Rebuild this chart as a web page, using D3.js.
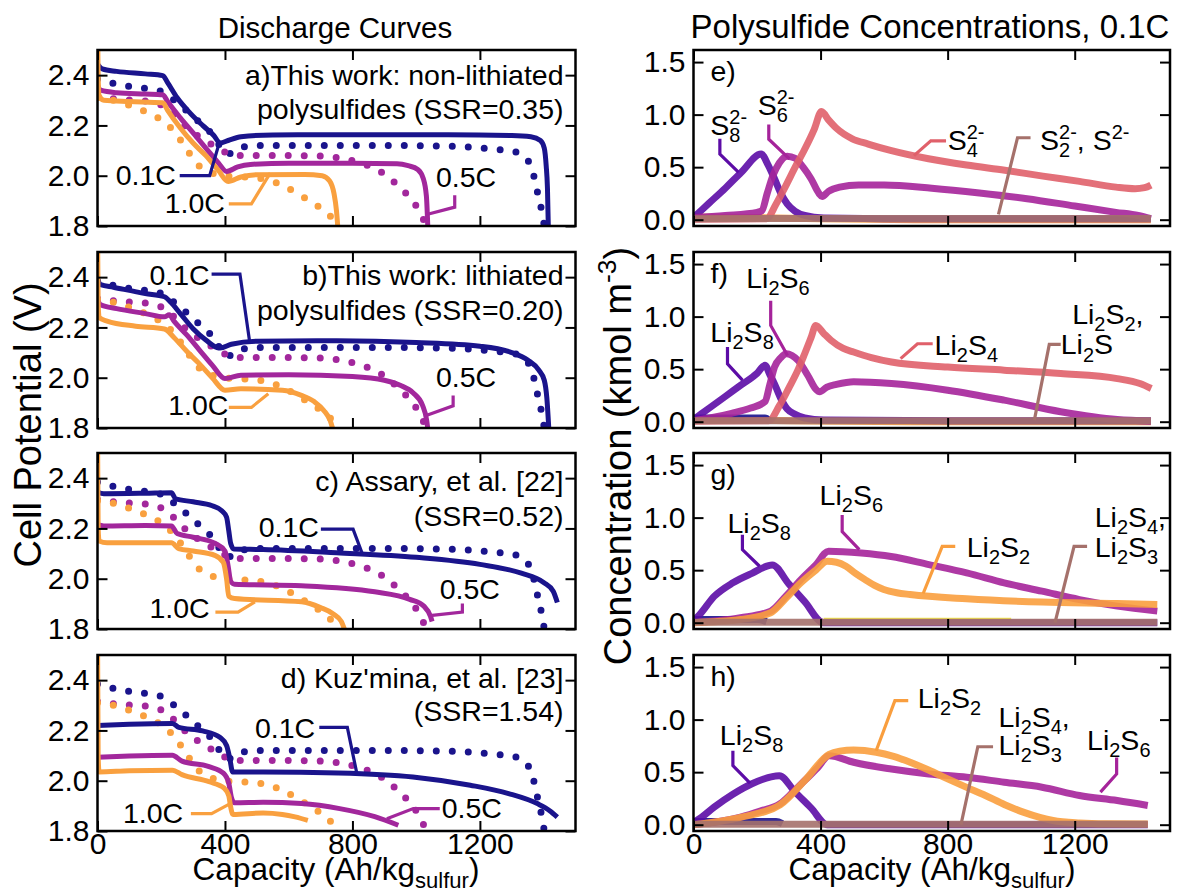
<!DOCTYPE html>
<html>
<head>
<meta charset="utf-8">
<script src="https://d3js.org/d3.v7.min.js"></script>
<style>
  body { margin: 0; background: #fff; }
  svg text { font-family: "Liberation Sans", Arial, sans-serif; fill: #000; }
</style>
</head>
<body>
<div id="chart"></div>
<script>

// ---- discharge data, [capacity Ah/kg, potential V] ----
// experiment (dotted), the same in all four left panels
var exp01 = [[0,2.385],[40,2.37],[100,2.355],[160,2.345],[200,2.335],[230,2.31],[260,2.28],[300,2.235],[340,2.19],[370,2.15],[392,2.1],[410,2.086],[440,2.108],[500,2.12],[700,2.12],[900,2.12],[1100,2.118],[1230,2.107],[1310,2.095],[1345,2.07],[1362,2.03],[1373,1.98],[1383,1.92],[1394,1.86],[1402,1.8]];
var exp05 = [[0,2.315],[60,2.305],[160,2.295],[210,2.275],[250,2.23],[290,2.18],[340,2.14],[390,2.1],[420,2.085],[460,2.08],[600,2.08],[700,2.078],[780,2.065],[840,2.045],[890,2.015],[935,1.97],[975,1.92],[1005,1.87],[1025,1.82],[1032,1.8]];
var exp10 = [[0,2.31],[50,2.3],[110,2.275],[150,2.255],[190,2.23],[230,2.19],[270,2.125],[310,2.05],[350,2.015],[400,2.0],[460,1.995],[530,1.985],[590,1.955],[640,1.92],[690,1.88],[730,1.84],[755,1.8]];

// simulations (solid)
var simA01 = [[0,2.445],[15,2.425],[60,2.415],[150,2.405],[205,2.398],[220,2.37],[250,2.31],[290,2.25],[330,2.2],[365,2.16],[385,2.13],[410,2.14],[450,2.155],[550,2.162],[800,2.163],[1100,2.163],[1300,2.16],[1360,2.155],[1390,2.14],[1402,2.11],[1408,2.04],[1412,1.95],[1415,1.78]];
var simA05 = [[0,2.36],[10,2.34],[60,2.33],[150,2.325],[205,2.322],[220,2.295],[260,2.23],[300,2.17],[340,2.11],[380,2.05],[405,2.017],[440,2.035],[480,2.045],[600,2.05],[800,2.05],[940,2.048],[975,2.04],[1005,2.025],[1022,1.99],[1032,1.92],[1037,1.78]];
var simA10 = [[0,2.62],[2,2.4],[5,2.32],[20,2.3],[100,2.295],[205,2.29],[220,2.26],[260,2.19],[300,2.13],[340,2.08],[380,2.02],[410,1.977],[450,1.995],[500,2.004],[650,2.005],[705,2.0],[728,1.98],[742,1.93],[750,1.86],[755,1.78]];

var simB01 = [[0,2.39],[10,2.37],[50,2.36],[150,2.335],[210,2.322],[230,2.3],[260,2.255],[300,2.195],[340,2.15],[375,2.12],[385,2.118],[420,2.133],[500,2.145],[750,2.147],[1000,2.14],[1200,2.125],[1300,2.1],[1350,2.07],[1385,2.03],[1402,1.99],[1410,1.92],[1417,1.78]];
var simB05 = [[0,2.31],[10,2.29],[60,2.275],[150,2.255],[210,2.242],[225,2.25],[240,2.225],[280,2.17],[320,2.11],[360,2.05],[400,1.997],[450,2.01],[600,2.012],[800,2.005],[900,1.99],[950,1.97],[990,1.94],[1020,1.89],[1033,1.83],[1038,1.78]];
var simB10 = [[0,2.6],[2,2.3],[5,2.24],[30,2.225],[120,2.205],[210,2.194],[240,2.16],[280,2.105],[320,2.055],[360,2.0],[400,1.95],[450,1.956],[580,1.95],[640,1.93],[680,1.905],[710,1.87],[730,1.83],[742,1.78]];

var simC01 = [[0,2.345],[20,2.338],[150,2.34],[232,2.342],[245,2.318],[300,2.306],[360,2.29],[390,2.27],[405,2.245],[412,2.19],[418,2.14],[428,2.118],[520,2.116],[750,2.103],[1000,2.085],[1200,2.057],[1330,2.022],[1400,1.985],[1430,1.95],[1443,1.905]];
var simC05 = [[0,2.215],[20,2.21],[150,2.212],[232,2.21],[250,2.18],[300,2.165],[370,2.14],[400,2.11],[410,2.05],[418,1.99],[430,1.978],[640,1.972],[870,1.948],[980,1.918],[1025,1.89],[1045,1.85],[1050,1.83]];
var simC10 = [[0,2.6],[2,2.2],[5,2.15],[30,2.143],[150,2.143],[232,2.143],[255,2.12],[300,2.11],[370,2.092],[395,2.065],[405,2.0],[412,1.93],[430,1.921],[640,1.908],[700,1.885],[740,1.86],[765,1.83],[780,1.78]];

var simD01 = [[0,2.22],[100,2.225],[235,2.228],[255,2.212],[330,2.198],[385,2.172],[405,2.14],[415,2.09],[424,2.035],[520,2.035],[755,2.031],[990,2.015],[1170,1.982],[1290,1.949],[1380,1.909],[1420,1.88],[1443,1.855]];
var simD05 = [[0,2.093],[100,2.098],[235,2.101],[265,2.078],[350,2.056],[395,2.03],[412,1.99],[420,1.935],[430,1.912],[520,1.914],[640,1.909],[760,1.889],[870,1.857],[944,1.823]];
var simD10 = [[0,2.6],[2,2.1],[5,2.035],[100,2.04],[235,2.042],[265,2.024],[350,1.996],[398,1.97],[412,1.94],[418,1.895],[425,1.866],[520,1.872],[580,1.866],[620,1.856],[660,1.842]];

var rateNames = ["0.1C", "0.5C", "1.0C"];
var voltTicks = [1.8, 2.0, 2.2, 2.4];
var capTicks = [0, 400, 800, 1200];
var concTicks = [0.0, 0.5, 1.0, 1.5];

// ---- concentration data, [capacity Ah/kg, kmol/m3] ----
var concE_S8 = [[0,0.02],[50,0.16],[100,0.3],[150,0.45],[213,0.625],[235,0.52],[255,0.39],[275,0.25],[295,0.15],[320,0.08],[350,0.04],[410,0.015],[600,0.01],[1000,0.01],[1440,0.01]];
var concE_S6 = [[0,0.02],[100,0.04],[200,0.07],[215,0.085],[232,0.25],[250,0.42],[270,0.54],[295,0.605],[320,0.585],[345,0.5],[370,0.39],[395,0.25],[405,0.22],[425,0.27],[460,0.31],[520,0.33],[600,0.33],[750,0.3],[900,0.255],[1050,0.2],[1200,0.13],[1330,0.07],[1400,0.04],[1440,0.01]];
var concE_S4 = [[0,0.005],[230,0.01],[260,0.15],[290,0.32],[320,0.5],[350,0.67],[380,0.86],[403,1.03],[425,0.95],[450,0.87],[500,0.77],[550,0.72],[620,0.66],[740,0.58],[860,0.52],[980,0.47],[1100,0.415],[1215,0.365],[1330,0.31],[1390,0.295],[1420,0.305],[1440,0.33]];
var concE_S2 = [[0,0.01],[400,0.012],[1440,0.012]];
var concE_low = [[0,0.025],[200,0.02],[400,0.008],[700,0.0],[1440,0.0]];

var concF_S8 = [[0,0.02],[50,0.13],[100,0.24],[150,0.35],[200,0.46],[225,0.537],[240,0.45],[255,0.36],[275,0.22],[295,0.12],[320,0.07],[350,0.035],[410,0.015],[800,0.01],[1440,0.01]];
var concF_S6 = [[0,0.01],[60,0.04],[120,0.08],[180,0.13],[225,0.19],[240,0.35],[255,0.52],[275,0.61],[292,0.647],[310,0.63],[330,0.58],[360,0.44],[385,0.31],[397,0.284],[420,0.33],[450,0.355],[504,0.38],[623,0.363],[800,0.3],[978,0.205],[1156,0.095],[1334,0.02],[1440,0.005]];
var concF_S4 = [[0,0.005],[237,0.01],[270,0.15],[300,0.32],[330,0.5],[350,0.647],[370,0.8],[385,0.916],[410,0.84],[433,0.774],[470,0.7],[504,0.663],[560,0.61],[623,0.568],[800,0.52],[978,0.49],[1156,0.458],[1334,0.41],[1405,0.363],[1441,0.316]];
var concF_S2 = [[0,0.01],[1440,0.01]];
var concF_solid = [[0,0.035],[225,0.035],[240,0.01]];
var concF_low = [[0,0.02],[300,0.01],[700,0.0],[1440,0.0]];

var concG_S8 = [[0,0.02],[20,0.08],[65,0.25],[124,0.38],[184,0.47],[248,0.55],[300,0.37],[350,0.2],[409,0.0],[1460,0.0]];
var concG_S6 = [[0,0.0],[80,0.02],[148,0.047],[243,0.11],[290,0.25],[338,0.41],[385,0.55],[425,0.68],[528,0.663],[622,0.63],[741,0.553],[860,0.474],[978,0.379],[1097,0.3],[1215,0.22],[1334,0.158],[1460,0.11]];
var concG_S2 = [[0,0.0],[148,0.03],[243,0.095],[290,0.23],[338,0.38],[385,0.5],[421,0.584],[450,0.575],[480,0.537],[510,0.47],[540,0.41],[570,0.355],[599,0.316],[640,0.285],[682,0.268],[860,0.227],[1097,0.196],[1334,0.183],[1460,0.174]];
var concG_S43 = [[0,0.005],[1460,0.005]];
var concG_solid = [[0,0.03],[200,0.03],[230,0.01]];
var concG_trace = [[410,0.014],[1000,0.014]];

var concH_S8 = [[0,0.02],[25,0.07],[65,0.167],[124,0.29],[184,0.39],[270,0.467],[320,0.31],[370,0.16],[421,0.0],[1430,0.0]];
var concH_S6 = [[0,0.0],[80,0.03],[148,0.073],[210,0.13],[273,0.2],[310,0.3],[350,0.42],[390,0.54],[427,0.657],[504,0.594],[623,0.53],[741,0.483],[860,0.452],[978,0.404],[1097,0.357],[1215,0.278],[1334,0.23],[1430,0.183]];
var concH_S2 = [[0,0.0],[148,0.07],[273,0.19],[350,0.42],[427,0.67],[460,0.7],[504,0.71],[575,0.69],[630,0.65],[682,0.594],[740,0.52],[800,0.436],[860,0.355],[919,0.278],[980,0.19],[1038,0.12],[1090,0.07],[1132,0.04],[1215,0.016],[1300,0.008],[1430,0.006]];
var concH_S43 = [[0,0.005],[1430,0.005]];
var concH_solid = [[0,0.03],[260,0.03],[280,0.01]];

// ---- layout ----
var W = 1177, H = 896;
var leftX0 = 97.5, leftX1 = 575.5, rightX0 = 693.5, rightX1 = 1170;
var rowTops = [50, 252, 453, 655], rowH = 176;
var rateColors = ["#1a148c", "#a2279c", "#f9a03f"];
var col = { S8: "#5c0ca6", S6: "#a5239a", S4: "#e0606a", S2: "#f99e3e", brown: "#a5716b", navy: "#1a128e", yellow: "#efe33c" };
var annSize = 28.5, tickSize = 30;

var svg = d3.select("#chart").append("svg").attr("width", W).attr("height", H);

// small parser for _{sub} and ^{sup}
function richText(sel, x, y, str, size, anchor) {
  var t = sel.append("text").attr("x", x).attr("y", y)
    .attr("font-size", size).attr("text-anchor", anchor || "start");
  var re = /(_\{[^}]*\}|\^\{[^}]*\}|[^_^]+)/g, m, cur = 0, prev = null, prevKind = "n";
  while ((m = re.exec(str)) !== null) {
    var tok = m[0], kind = "n", txt = tok;
    if (tok[0] === "_") { kind = "sub"; txt = tok.slice(2, -1); }
    else if (tok[0] === "^") { kind = "sup"; txt = tok.slice(2, -1); }
    var off = kind === "sub" ? 0.26 * size : (kind === "sup" ? -0.4 * size : 0);
    var ts = t.append("tspan").text(txt).attr("dy", off - cur);
    if (kind !== "n") ts.attr("font-size", size * 0.7);
    if (kind === "sup" && prevKind === "sub") ts.attr("dx", -prev.node().getComputedTextLength());
    cur = off; prev = ts; prevKind = kind;
  }
  return t;
}

function addAxes(g, x, y, w, yTicks, yFmt, showX) {
  var axes = [];
  axes.push(g.append("g").call(d3.axisLeft(y).tickValues(yTicks).tickSize(-10).tickPadding(8).tickFormat(d3.format(yFmt))));
  axes.push(g.append("g").attr("transform", "translate(" + w + ",0)").call(d3.axisRight(y).tickValues(yTicks).tickSize(-10).tickFormat("")));
  axes.push(g.append("g").call(d3.axisTop(x).tickValues(capTicks).tickSize(-10).tickFormat("")));
  axes.push(g.append("g").attr("transform", "translate(0," + rowH + ")")
    .call(d3.axisBottom(x).tickValues(capTicks).tickSize(-10).tickPadding(2).tickFormat(showX ? d3.format("d") : "")));
  axes.forEach(function (a) {
    a.attr("font-family", null).attr("font-size", null);
    a.select(".domain").remove();
    a.selectAll(".tick line").attr("stroke", "#000").attr("stroke-width", 2);
    a.selectAll(".tick text").attr("font-size", tickSize).attr("fill", "#000");
  });
}

function addFrame(g, w) {
  g.append("rect").attr("width", w).attr("height", rowH)
    .attr("fill", "none").attr("stroke", "#000").attr("stroke-width", 2.5);
}

function addClip(g, id, w) {
  g.append("clipPath").attr("id", id).append("rect").attr("width", w).attr("height", rowH);
}

// ---- discharge panels ----
var dischargePanels = [
  { id: "a", sims: [simA01, simA05, simA10], title: ["a)This work: non-lithiated", "polysulfides (SSR=0.35)"], titleY: [35, 69],
    labels: [[57, 1.963], [1062, 1.955], [211, 1.852]],
    leaders: [[[258, 2.0], [352, 2.0], [382, 2.13]], [[1121, 1.922], [1121, 1.875], [1039, 1.848]], [[412, 1.888], [483, 1.888], [542, 2.01]]] },
  { id: "b", sims: [simB01, simB05, simB10], title: ["b)This work: lithiated", "polysulfides (SSR=0.20)"], titleY: [33, 68],
    labels: [[163, 2.369], [1062, 1.963], [222, 1.852]],
    leaders: [[[358, 2.412], [447, 2.412], [477, 2.147]], [[1116, 1.929], [1116, 1.888], [1027, 1.848]], [[412, 1.882], [483, 1.882], [536, 1.936]]] },
  { id: "c", sims: [simC01, simC05, simC10], title: ["c) Assary, et al. [22]", "(SSR=0.52)"], titleY: [38, 73],
    labels: [[506, 2.166], [1074, 1.919], [163, 1.844]],
    leaders: [[[701, 2.197], [802, 2.197], [832, 2.096]], [[1145, 1.901], [1145, 1.867], [1050, 1.854]], [[370, 1.867], [441, 1.867], [494, 1.908]]] },
  { id: "d", sims: [simD01, simD05, simD10], title: ["d) Kuz'mina, et al. [23]", "(SSR=1.54)"], titleY: [33, 66],
    labels: [[494, 2.17], [1080, 1.852], [80, 1.832]],
    leaders: [[[696, 2.212], [784, 2.212], [814, 2.028]], [[1074, 1.889], [991, 1.889], [908, 1.849]], [[293, 1.869], [358, 1.869], [412, 1.906]]] }
];
var expCurves = [exp01, exp05, exp10];

dischargePanels.forEach(function (p, row) {
  var w = leftX1 - leftX0;
  var g = svg.append("g").attr("transform", "translate(" + leftX0 + "," + rowTops[row] + ")");
  var x = d3.scaleLinear().domain([0, 1500]).range([0, w]);
  var y = d3.scaleLinear().domain([1.8, 2.5]).range([rowH, 0]);
  var line = d3.line().x(function (d) { return x(d[0]); }).y(function (d) { return y(d[1]); }).curve(d3.curveMonotoneX);
  var straight = d3.line().x(function (d) { return x(d[0]); }).y(function (d) { return y(d[1]); });

  addClip(g, "clip-" + p.id, w);
  var plot = g.append("g").attr("clip-path", "url(#clip-" + p.id + ")");

  expCurves.forEach(function (c, i) {
    plot.append("path").attr("d", line(c)).attr("fill", "none")
      .attr("stroke", rateColors[i]).attr("stroke-width", 7)
      .attr("stroke-linecap", "round").attr("stroke-dasharray", "0,16");
  });
  p.sims.forEach(function (c, i) {
    plot.append("path").attr("d", line(c)).attr("fill", "none")
      .attr("stroke", rateColors[i]).attr("stroke-width", 5);
  });

  p.leaders.forEach(function (l, i) {
    g.append("path").attr("d", straight(l)).attr("fill", "none")
      .attr("stroke", rateColors[i]).attr("stroke-width", 3.2);
  });
  p.labels.forEach(function (l, i) {
    richText(g, x(l[0]), y(l[1]), rateNames[i], annSize, "start");
  });
  richText(g, w - 12, p.titleY[0], p.title[0], annSize, "end");
  richText(g, w - 12, p.titleY[1], p.title[1], annSize, "end");

  addAxes(g, x, y, w, voltTicks, ".1f", row === 3);
  addFrame(g, w);
});

// ---- concentration panels ----
var concPanels = [
  { id: "e",
    series: [[concE_low, col.S2], [concE_S8, col.S8], [concE_S6, col.S6], [concE_S4, col.S4], [concE_S2, col.brown]],
    labels: [[53, 0.806, "S_{8}^{2-}"], [202, 0.997, "S_{6}^{2-}"], [800, 0.664, "S_{4}^{2-}"], [1091, 0.664, "S_{2}^{2-}, S^{2-}"]],
    leaders: [[[[83, 0.77], [83, 0.625], [142, 0.45]], col.S8], [[[237, 0.906], [237, 0.766], [302, 0.578]], col.S6],
              [[[795, 0.75], [747, 0.75], [694, 0.61]], col.S4], [[[1061, 0.78], [1020, 0.78], [960, 0.05]], col.brown]] },
  { id: "f",
    series: [[concF_low, col.S2], [concF_solid, col.navy], [concF_S8, col.S8], [concF_S6, col.S6], [concF_S4, col.S4], [concF_S2, col.brown]],
    labels: [[166, 1.272, "Li_{2}S_{6}"], [53, 0.759, "Li_{2}S_{8}"], [759, 0.635, "Li_{2}S_{4}"], [1192, 0.93, "Li_{2}S_{2},"], [1156, 0.64, "Li_{2}S"]],
    leaders: [[[[243, 1.15], [243, 0.916], [296, 0.63]], col.S6], [[[107, 0.71], [107, 0.55], [154, 0.395]], col.S8],
              [[[753, 0.742], [705, 0.742], [652, 0.6]], col.S4], [[[1156, 0.736], [1120, 0.736], [1073, 0.015]], col.brown]] },
  { id: "g",
    series: [[concG_solid, col.navy], [concG_trace, col.yellow], [concG_S8, col.S8], [concG_S6, col.S6], [concG_S2, col.S2], [concG_S43, col.brown]],
    labels: [[397, 1.12, "Li_{2}S_{6}"], [107, 0.854, "Li_{2}S_{8}"], [860, 0.625, "Li_{2}S_{2}"], [1263, 0.91, "Li_{2}S_{4},"], [1263, 0.625, "Li_{2}S_{3}"]],
    leaders: [[[[468, 1.026], [468, 0.868], [522, 0.695]], col.S6], [[[154, 0.837], [154, 0.695], [208, 0.537]], col.S8],
              [[[824, 0.726], [783, 0.726], [723, 0.278]], col.S2], [[[1239, 0.726], [1198, 0.726], [1138, 0.0]], col.brown]] },
  { id: "h",
    series: [[concH_solid, col.navy], [concH_S8, col.S8], [concH_S6, col.S6], [concH_S2, col.S2], [concH_S43, col.brown]],
    labels: [[83, 0.759, "Li_{2}S_{8}"], [706, 1.111, "Li_{2}S_{2}"], [960, 0.93, "Li_{2}S_{4},"], [960, 0.664, "Li_{2}S_{3}"], [1239, 0.711, "Li_{2}S_{6}"]],
    leaders: [[[[124, 0.704], [124, 0.562], [178, 0.395]], col.S8], [[[676, 1.18], [634, 1.18], [575, 0.704]], col.S2],
              [[[943, 0.742], [895, 0.742], [842, 0.0]], col.brown], [[[1332, 0.64], [1332, 0.483], [1281, 0.31]], col.S6]] }
];

concPanels.forEach(function (p, row) {
  var w = rightX1 - rightX0;
  var g = svg.append("g").attr("transform", "translate(" + rightX0 + "," + rowTops[row] + ")");
  var x = d3.scaleLinear().domain([0, 1500]).range([0, w]);
  var y = d3.scaleLinear().domain([-0.06, 1.615]).range([rowH, 0]);
  var line = d3.line().x(function (d) { return x(d[0]); }).y(function (d) { return y(d[1]); }).curve(d3.curveMonotoneX);
  var straight = d3.line().x(function (d) { return x(d[0]); }).y(function (d) { return y(d[1]); });

  addClip(g, "clip-" + p.id, w);
  var plot = g.append("g").attr("clip-path", "url(#clip-" + p.id + ")");
  p.series.forEach(function (s) {
    plot.append("path").attr("d", line(s[0])).attr("fill", "none")
      .attr("stroke", s[1]).attr("stroke-width", 7).attr("stroke-opacity", 0.9);
  });
  p.leaders.forEach(function (l) {
    g.append("path").attr("d", straight(l[0])).attr("fill", "none")
      .attr("stroke", l[1]).attr("stroke-width", 3.2);
  });
  p.labels.forEach(function (l) {
    richText(g, x(l[0]), y(l[1]), l[2], annSize, "start");
  });
  richText(g, 17, 31, p.id + ")", annSize, "start");

  addAxes(g, x, y, w, concTicks, ".1f", row === 3);
  addFrame(g, w);
});

// ---- titles and axis labels ----
richText(svg, 335, 38, "Discharge Curves", 29.5, "middle");
richText(svg, 930, 38, "Polysulfide Concentrations, 0.1C", 33, "middle");
richText(svg, 336, 880, "Capacity (Ah/kg_{sulfur})", 31.5, "middle");
richText(svg, 932, 880, "Capacity (Ah/kg_{sulfur})", 31.5, "middle");
richText(svg.append("g").attr("transform", "translate(41,425) rotate(-90)"), 0, 0, "Cell Potential (V)", 38, "middle");
richText(svg.append("g").attr("transform", "translate(631,456) rotate(-90)"), 0, 0, "Concentration (kmol m^{-3})", 38, "middle");

</script>
</body>
</html>
